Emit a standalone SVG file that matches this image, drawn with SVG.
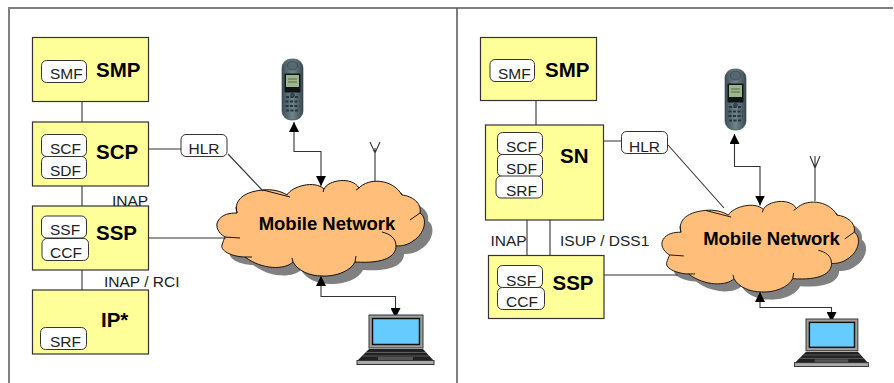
<svg xmlns="http://www.w3.org/2000/svg" width="894" height="383" viewBox="0 0 894 383">
<style>
text{font-family:"Liberation Sans",Arial,sans-serif;fill:#111}
.box{fill:#ffff99;stroke:#333;stroke-width:1.2}
.fn{fill:#fff;stroke:#333;stroke-width:1}
.t{font-size:15.500px;fill:#222}
.b{font-size:20.500px;font-weight:bold;fill:#000}
.l{font-size:15.500px;fill:#222}
.c{font-size:18.500px;font-weight:bold;fill:#000}
.line{fill:none;stroke:#333;stroke-width:1.100}
.g{fill:none;stroke:#808080;stroke-width:2}
</style>
<defs>
<marker id="ah" viewBox="0 0 10 10" refX="10" refY="5" markerWidth="10" markerHeight="10" orient="auto-start-reverse" markerUnits="userSpaceOnUse"><path d="M0 0L10 5L0 10Z" fill="#000"/></marker>
<linearGradient id="ph" x1="0" x2="1" y1="0" y2="0"><stop offset="0" stop-color="#3f5058"/><stop offset=".5" stop-color="#6f848c"/><stop offset="1" stop-color="#3a4a52"/></linearGradient>
<path id="cl" d="M237 213C234 203 240 192 263 190C272 189 281 191 287 195C292 186 315 180 324 189C328 180 352 176 359 188C368 178 392 178 402 195C412 196 422 203 420 213C428 218 425 234 413 241C408 245 402 246 396 246C396 256 385 264 355 262C351 271 335 277 322 276C310 276 298 271 293 262C285 270 262 270 245 257C235 257 220 252 222 245C223 242 224 239 225 237C218 233 215 226 218 221C222 214 230 213 237 213Z"/>
<g id="cloud">
<use href="#cl" x="8" y="8" fill="#808080"/>
<use href="#cl" fill="#ffbf7a" stroke="#111" stroke-width="1"/>
<path d="M237 213L236 207M263 190L290 197M324 189L323 192M359 188L356 190M402 195L401 193M420 213L410 220M382 232C390 234 396 238 396 246M355 262L356 256M293 262L292 258M245 257L252 257M225 237L240 238" fill="none" stroke="#111" stroke-width="1"/>
</g>
<g id="phone">
<rect x="0" y="0" width="21" height="61" rx="9" fill="url(#ph)" stroke="#2f3c42" stroke-width=".6"/>
<ellipse cx="10.500" cy="6.500" rx="5" ry="4.500" fill="#55686f" stroke="#2f3c42" stroke-width=".6"/>
<rect x="2.500" y="14.500" width="16" height="19" rx="1" fill="#0e1416"/>
<rect x="4" y="16" width="13" height="12" fill="#9db58a"/>
<path d="M6 20h9M6 23h9" stroke="#47553f" stroke-width=".8"/>
<path d="M4 38h13M3.500 42.500h14M3.500 47h14M4 51.500h13" stroke="#27343a" stroke-width="2" stroke-dasharray="3 1.500"/>
<circle cx="10.500" cy="36" r="2" fill="#3a4a52" stroke="#1f2a2e" stroke-width=".5"/>
</g>
<g id="laptop">
<rect x="12" y="0" width="54" height="33" fill="#a0a0a0" stroke="#333"/>
<rect x="15.500" y="3.500" width="47" height="26" fill="#66ccff" stroke="#111" stroke-width="1.500"/>
<path d="M12 34H66L77 46H0Z" fill="#222"/>
<path d="M9 37.500H69M6 41H72" stroke="#777" stroke-width=".7"/>
<rect x="0" y="45.500" width="77" height="4" fill="#aaa" stroke="#333"/>
<rect x="21" y="42" width="35" height="3" fill="#555"/>
</g>
</defs>

<g id="frame">
<path class="g" d="M9 383V8H893"/>
<path d="M457 8V383" fill="none" stroke="#555" stroke-width="1.500"/>
</g>

<g id="cloud-left"><use href="#cloud"/><text class="c" x="327" y="230" text-anchor="middle">Mobile Network</text></g>
<g id="cloud-right"><use href="#cloud" transform="translate(456.500 30.300) scale(.947 .948)"/><text class="c" x="771.500" y="245" text-anchor="middle">Mobile Network</text></g>

<g id="connectors">
<path class="line" d="M82 102V122M82 186V206M82 270V290M148 149H181M228 154L263 191M148 238H226"/>
<path class="line" d="M294 122V151.500H321V186" marker-start="url(#ah)" marker-end="url(#ah)"/>
<path class="line" d="M375 181V148M370 142L375 153L380 142"/>
<path class="line" d="M321 276V296.500H395.500V318" marker-start="url(#ah)" marker-end="url(#ah)"/>
<path class="line" d="M536 100V125M527 220V255M550 220V255M604 141H621M668 145L724 208M604 275H678"/>
<path class="line" d="M734.500 134V166.500H760V205.500" marker-start="url(#ah)" marker-end="url(#ah)"/>
<path class="line" d="M815 201V156M810 156L815 168L820 156"/>
<path class="line" d="M760 292V307.500H831.500V322" marker-start="url(#ah)" marker-end="url(#ah)"/>
</g>

<g id="phone-left"><use href="#phone" x="282" y="59"/></g>
<g id="phone-right"><use href="#phone" x="725" y="69"/></g>
<g id="laptop-left"><use href="#laptop" x="357" y="315"/></g>
<g id="laptop-right"><use href="#laptop" transform="translate(794.500 319) scale(.96)"/></g>

<g id="smp-left"><rect class="box" x="32.500" y="37.500" width="116" height="64"/>
<rect class="fn" x="41.500" y="60.500" width="45" height="22" rx="5"/><text class="t" x="50" y="79">SMF</text><text class="b" x="96" y="77">SMP</text></g>
<g id="scp-left"><rect class="box" x="32.500" y="122" width="116" height="64"/>
<rect class="fn" x="41.500" y="134.500" width="45" height="22" rx="5"/><text class="t" x="50" y="154">SCF</text>
<rect class="fn" x="41.500" y="156.500" width="45" height="22" rx="5"/><text class="t" x="50" y="176">SDF</text><text class="b" x="96" y="159">SCP</text></g>
<g id="ssp-left"><rect class="box" x="32.500" y="206" width="116" height="64"/>
<rect class="fn" x="41.500" y="216" width="45" height="22" rx="5"/><text class="t" x="50" y="235">SSF</text>
<rect class="fn" x="42" y="238.500" width="46.500" height="22" rx="5"/><text class="t" x="50" y="258">CCF</text><text class="b" x="96" y="240">SSP</text></g>
<g id="ip-left"><rect class="box" x="32.500" y="290" width="116" height="64"/>
<rect class="fn" x="40.500" y="327.500" width="46" height="22" rx="5"/><text class="t" x="50" y="347">SRF</text><text class="b" x="101" y="327">IP*</text></g>
<g id="hlr-left"><rect class="fn" x="181" y="134.500" width="46" height="22" rx="5"/><text class="t" x="188.500" y="154">HLR</text></g>

<g id="smp-right"><rect class="box" x="480.500" y="37.500" width="116" height="63"/>
<rect class="fn" x="490" y="59.500" width="44.500" height="22" rx="5"/><text class="t" x="498" y="79">SMF</text><text class="b" x="545" y="77">SMP</text></g>
<g id="sn-right"><rect class="box" x="485.500" y="125" width="118" height="95"/>
<rect class="fn" x="497.500" y="132.500" width="45" height="22" rx="5"/><text class="t" x="506" y="152">SCF</text>
<rect class="fn" x="497.500" y="154.500" width="45" height="22" rx="5"/><text class="t" x="506" y="174">SDF</text>
<rect class="fn" x="496" y="176" width="46.500" height="22" rx="5"/><text class="t" x="506" y="196">SRF</text><text class="b" x="560" y="163">SN</text></g>
<g id="ssp-right"><rect class="box" x="488.500" y="255.500" width="115.500" height="63"/>
<rect class="fn" x="497.500" y="265.500" width="45" height="22" rx="5"/><text class="t" x="506" y="286">SSF</text>
<rect class="fn" x="497.500" y="287.500" width="47" height="22" rx="5"/><text class="t" x="506" y="307">CCF</text><text class="b" x="552.500" y="290">SSP</text></g>
<g id="hlr-right"><rect class="fn" x="621.500" y="131.500" width="46" height="22" rx="5"/><text class="t" x="629" y="152">HLR</text></g>

<g id="labels">
<text class="l" x="112" y="205.500">INAP</text>
<text class="l" x="104" y="286.500">INAP / RCI</text>
<text class="l" x="490.500" y="245.500">INAP</text>
<text class="l" x="560" y="245.500">ISUP / DSS1</text>
</g>
</svg>
